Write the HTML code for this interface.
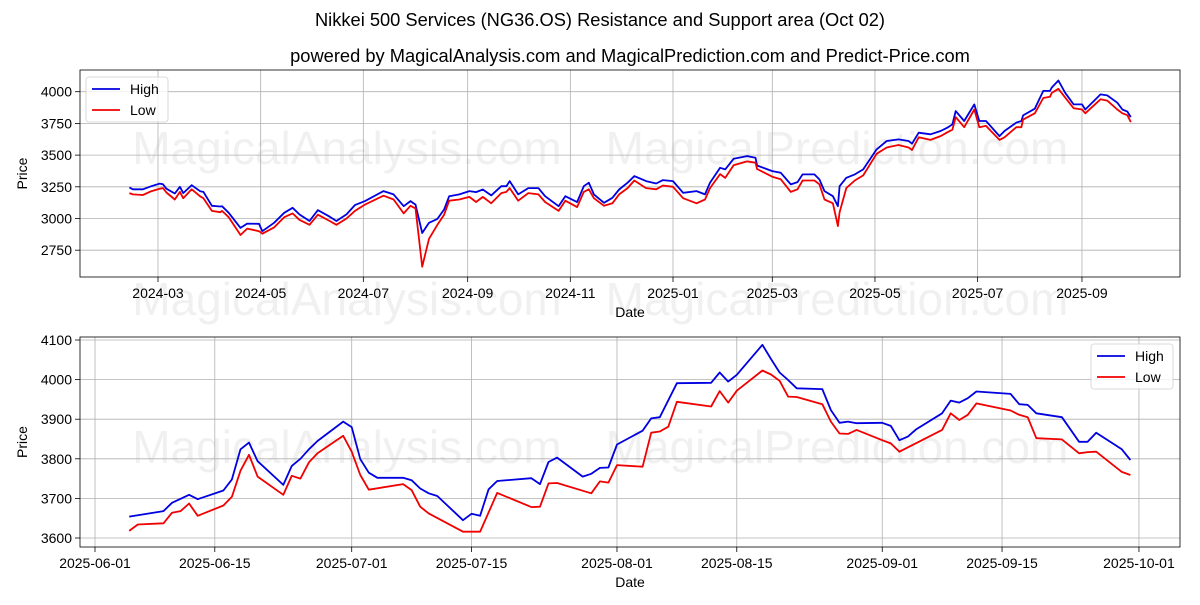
<!DOCTYPE html>
<html><head><meta charset="utf-8"><style>
body{margin:0;background:#fff}
svg text{font-family:"Liberation Sans","DejaVu Sans",sans-serif}
</style></head><body>
<svg id="c" width="1200" height="600" xmlns="http://www.w3.org/2000/svg">
<rect width="1200" height="600" fill="#fff"/>
<text x="600" y="26" text-anchor="middle" font-size="18.3">Nikkei 500 Services (NG36.OS) Resistance and Support area (Oct 02)</text>
<text x="630" y="62" text-anchor="middle" font-size="18.3">powered by MagicalAnalysis.com and MagicalPrediction.com and Predict-Price.com</text>
<g id="top"></g>
<g id="bot"></g>
</svg>
<script>
// Top chart: day offsets since 2024-03-01
const topDays=[-17,-15,-9,-4,1,3,5,10,13,15,20,25,27,32,37,38,42,49,53,60,62,69,75,80,84,90,95,102,106,112,117,123,134,140,146,150,153,157,161,166,170,173,179,185,189,193,198,204,207,209,214,220,226,230,238,242,249,253,256,259,265,270,274,279,283,290,296,300,306,312,320,325,328,334,337,342,350,355,356,365,370,376,380,383,390,393,396,401,404,405,409,414,419,427,433,440,446,448,452,459,465,469,472,474,479,485,488,492,500,503,510,513,514,521,526,530,531,535,539,544,549,551,560,564,570,573,576,578];
const topHigh=[3245,3230,3230,3255,3275,3270,3235,3197,3250,3200,3263,3215,3210,3100,3095,3097,3045,2926,2960,2958,2900,2966,3045,3084,3032,2980,3066,3014,2980,3032,3106,3137,3216,3190,3097,3137,3110,2886,2966,2997,3071,3176,3190,3216,3208,3229,3182,3255,3255,3295,3190,3240,3240,3176,3097,3176,3129,3255,3282,3190,3124,3163,3229,3282,3334,3295,3276,3303,3295,3203,3216,3190,3282,3400,3387,3471,3492,3479,3418,3374,3361,3269,3287,3348,3348,3308,3216,3176,3097,3255,3321,3348,3387,3545,3611,3624,3611,3590,3677,3664,3690,3716,3742,3847,3769,3900,3769,3769,3650,3690,3756,3769,3813,3866,4006,4006,4032,4088,3992,3900,3900,3860,3979,3971,3913,3860,3843,3800];
const topLow=[3200,3190,3185,3215,3235,3240,3205,3150,3210,3160,3230,3175,3160,3060,3050,3060,3010,2870,2920,2900,2880,2930,3010,3040,2990,2950,3030,2980,2950,3000,3060,3110,3180,3150,3040,3100,3080,2620,2840,2950,3030,3140,3150,3170,3130,3170,3120,3200,3210,3240,3140,3200,3190,3130,3060,3140,3090,3210,3230,3160,3100,3120,3190,3240,3300,3240,3230,3260,3250,3160,3120,3150,3240,3350,3320,3420,3450,3440,3390,3330,3310,3210,3230,3300,3300,3270,3150,3120,2940,3050,3240,3300,3340,3510,3560,3580,3560,3540,3640,3620,3650,3680,3700,3800,3720,3860,3720,3730,3620,3640,3720,3720,3780,3830,3950,3960,3990,4023,3955,3870,3860,3830,3940,3930,3860,3830,3815,3760];
const topTickDays=[0,61,122,184,245,306,365,426,487,549];
const topTickLabels=["2024-03","2024-05","2024-07","2024-09","2024-11","2025-01","2025-03","2025-05","2025-07","2025-09"];
const topYTicks=[2750,3000,3250,3500,3750,4000];
// Bottom chart: day offsets since 2025-06-01
const botHighDays=[4,8,9,11,12,15,16,17,18,19,22,23,24,25,26,29,30,31,32,33,36,37,38,39,40,43,44,45,46,47,51,52,53,54,57,58,59,60,61,64,65,66,68,72,73,74,75,78,79,80,81,82,85,86,87,88,89,92,93,94,95,96,99,100,101,102,103,107,108,109,110,113,115,116,117,120,121];
const botHigh=[3654,3668,3689,3709,3698,3720,3748,3824,3841,3794,3734,3782,3800,3824,3845,3894,3880,3799,3765,3752,3752,3746,3725,3713,3706,3645,3661,3656,3723,3744,3751,3736,3792,3803,3755,3762,3777,3778,3836,3871,3902,3905,3991,3992,4018,3995,4012,4088,4052,4018,3999,3978,3976,3923,3891,3894,3890,3891,3883,3847,3856,3875,3915,3947,3942,3953,3970,3964,3938,3936,3915,3905,3843,3843,3866,3824,3797];
const botLowDays=[4,5,8,9,10,11,12,15,16,17,18,19,22,23,24,25,26,29,30,31,32,36,37,38,39,43,45,47,51,52,53,54,58,59,60,61,64,65,66,67,68,72,73,74,75,78,79,80,81,82,85,86,87,88,89,92,93,94,99,100,101,102,103,107,108,109,110,113,115,116,117,120,121];
const botLow=[3618,3634,3637,3664,3668,3687,3656,3682,3704,3770,3810,3755,3709,3757,3750,3791,3814,3858,3818,3759,3722,3736,3721,3679,3662,3616,3616,3714,3678,3679,3738,3739,3713,3743,3740,3784,3780,3866,3869,3881,3944,3932,3971,3942,3972,4023,4013,3997,3957,3956,3938,3894,3864,3863,3873,3847,3839,3818,3873,3915,3898,3911,3940,3922,3911,3905,3852,3849,3814,3817,3818,3767,3759];
const botTickDays=[0,14,30,44,61,75,92,106,122];
const botTickLabels=["2025-06-01","2025-06-15","2025-07-01","2025-07-15","2025-08-01","2025-08-15","2025-09-01","2025-09-15","2025-10-01"];
const botYTicks=[3600,3700,3800,3900,4000,4100];

const NS="http://www.w3.org/2000/svg";
function mk(tag,attrs,parent,txt){const e=document.createElementNS(NS,tag);for(const k in attrs)e.setAttribute(k,attrs[k]);if(txt!==undefined)e.textContent=txt;parent.appendChild(e);return e;}

function panel(g,cfg){
  const {L,R,T,B,xs,ys}=cfg;
  cfg.wm.forEach(w=>{const t=mk('text',{x:w[0],y:w[1],'text-anchor':'middle','font-size':46,fill:'#000','fill-opacity':0.06},g,w[2]);
    
    });
  cfg.xt.forEach((d,i)=>{const x=xs(d);
    const l=mk('line',{x1:x,x2:x,y1:T,y2:B,stroke:'#b0b0b0','stroke-width':0.8},g);
    
    
    mk('line',{x1:x,x2:x,y1:B,y2:B+5,stroke:'#000','stroke-width':0.8},g);
    const t=mk('text',{x:x,y:B+21,'text-anchor':'middle','font-size':14},g,cfg.xl[i]);
    
    });
  cfg.yt.forEach(v=>{const y=ys(v);
    const l=mk('line',{x1:L,x2:R,y1:y,y2:y,stroke:'#b0b0b0','stroke-width':0.8},g);
    
    
    mk('line',{x1:L-5,x2:L,y1:y,y2:y,stroke:'#000','stroke-width':0.8},g);
    const t=mk('text',{x:L-8,y:y+5,'text-anchor':'end','font-size':14},g,String(v));
    
    });
  const series=[[cfg.hd,cfg.h,'#0000e0','high-line'],[cfg.ld,cfg.l,'#f00000','low-line']];
  series.forEach(s=>{const pts=s[0].map((d,i)=>xs(d).toFixed(1)+','+ys(s[1][i]).toFixed(1)).join(' ');
    const p=mk('polyline',{points:pts,fill:'none',stroke:s[2],'stroke-width':1.8,'stroke-linejoin':'round'},g);
    
    });
  const fr=mk('rect',{x:L,y:T,width:R-L,height:B-T,fill:'none',stroke:'#000','stroke-width':0.8},g);
  
  
  const xl=mk('text',{x:(L+R)/2,y:B+40,'text-anchor':'middle','font-size':14},g,'Date');
  
  
  const yl=mk('text',{x:0,y:0,'text-anchor':'middle','font-size':14,transform:`translate(27,${(T+B)/2}) rotate(-90)`},g,'Price');
  
  
  const [lx,ly]=cfg.leg;
  const lg=mk('g',{},g);
  
  
  mk('rect',{x:lx,y:ly,width:82,height:45,rx:3,fill:'#fff','fill-opacity':0.8,stroke:'#d0d0d0','stroke-width':0.8},lg);
  [['High','#0000e0'],['Low','#f00000']].forEach((e,i)=>{const y=ly+12+i*21;
    const en=mk('g',{},lg);
    
    
    mk('line',{x1:lx+6,x2:lx+34,y1:y,y2:y,stroke:e[1],'stroke-width':1.8},en);
    mk('text',{x:lx+44,y:y+5,'font-size':14},en,e[0]);});
}
panel(document.getElementById('top'),{L:80,R:1180,T:70,B:277,
  xs:d=>158+d*1.683, ys:v=>91.7+(4000-v)*0.1268,
  xt:topTickDays,xl:topTickLabels,yt:topYTicks,hd:topDays,h:topHigh,ld:topDays,l:topLow,leg:[86,77],
  wm:[[347,164,'MagicalAnalysis.com'],[837,164,'MagicalPrediction.com'],[347,315,'MagicalAnalysis.com'],[837,315,'MagicalPrediction.com']]});
panel(document.getElementById('bot'),{L:80,R:1180,T:337,B:547,
  xs:d=>95+d*8.557, ys:v=>340+(4100-v)*0.396,
  xt:botTickDays,xl:botTickLabels,yt:botYTicks,hd:botHighDays,h:botHigh,ld:botLowDays,l:botLow,leg:[1091,344],
  wm:[[347,463,'MagicalAnalysis.com'],[837,463,'MagicalPrediction.com']]});
</script>
</body></html>
